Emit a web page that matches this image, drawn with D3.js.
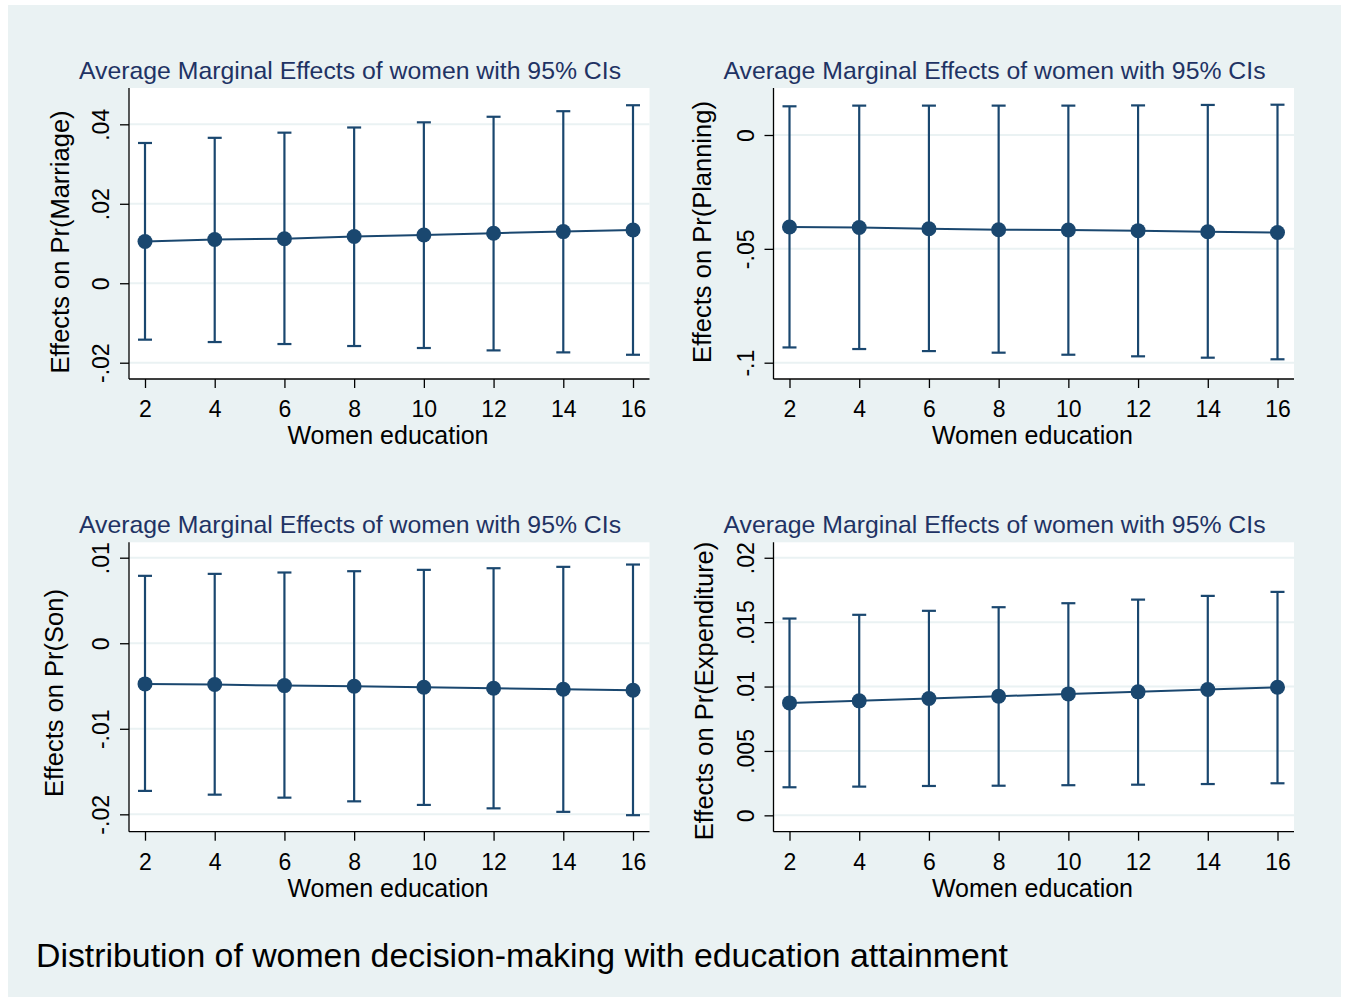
<!DOCTYPE html>
<html>
<head>
<meta charset="utf-8">
<script src="https://cdnjs.cloudflare.com/ajax/libs/d3/7.8.5/d3.min.js"></script>
<style>
  body { margin: 0; background: #fff; }
  text { font-family: "Liberation Sans", Arial, sans-serif; }
</style>
</head>
<body>
<div id="mainContainer"></div>
<script>
// women education levels (x axis)
var educ = [2, 4, 6, 8, 10, 12, 14, 16];
var xTicks = [2, 4, 6, 8, 10, 12, 14, 16];

// marriage
var marriageEst = [0.0105, 0.0110, 0.0112, 0.01175, 0.01215, 0.0126, 0.0130, 0.0134];
var marriageLo  = [-0.0142, -0.0148, -0.0153, -0.0158, -0.0163, -0.0169, -0.0174, -0.0180];
var marriageHi  = [0.0353, 0.0366, 0.0379, 0.0392, 0.0405, 0.0419, 0.0433, 0.0448];
var marriageTicks = [-0.02, 0, 0.02, 0.04];

// planning
var planningEst = [-0.0404, -0.0406, -0.0412, -0.0416, -0.0417, -0.0420, -0.0425, -0.0428];
var planningLo  = [-0.0933, -0.0940, -0.0949, -0.0956, -0.0965, -0.0972, -0.0978, -0.0985];
var planningHi  = [0.0126, 0.0129, 0.0129, 0.0129, 0.0129, 0.0130, 0.0132, 0.0133];
var planningTicks = [-0.1, -0.05, 0];

// son
var sonEst = [-0.00475, -0.00483, -0.00495, -0.00503, -0.00515, -0.00526, -0.00538, -0.0055];
var sonLo  = [-0.01726, -0.0177, -0.01805, -0.01848, -0.0189, -0.0193, -0.01971, -0.0201];
var sonHi  = [0.00788, 0.00811, 0.00827, 0.00842, 0.00858, 0.00877, 0.00893, 0.0092];
var sonTicks = [-0.02, -0.01, 0, 0.01];

// expenditure
var expEst = [0.00873, 0.00889, 0.00907, 0.00925, 0.00943, 0.00959, 0.00977, 0.00995];
var expLo  = [0.00218, 0.00223, 0.00228, 0.0023, 0.00234, 0.00238, 0.00243, 0.00249];
var expHi  = [0.01528, 0.01557, 0.01588, 0.01616, 0.01647, 0.01675, 0.01704, 0.01735];
var expTicks = [0, 0.005, 0.01, 0.015, 0.02];

var panelTitle = "Average Marginal Effects of women with 95% CIs";
var xTitle = "Women education";
var caption = "Distribution of women decision-making with education attainment";

var navy = "#1a476f", bg = "#eaf2f3";
var width = 1346, height = 1000;

// panel placement (axis origin, plot top/bottom, y title position)
var panels = [
  {est: marriageEst, lo: marriageLo, hi: marriageHi, ticks: marriageTicks, ytitle: "Effects on Pr(Marriage)",
   ax: 129, top: 88, bot: 379, dom: [-0.0241, 0.04914], ytx: 69, yty: 242},
  {est: planningEst, lo: planningLo, hi: planningHi, ticks: planningTicks, ytitle: "Effects on Pr(Planning)",
   ax: 773.5, top: 88, bot: 379, dom: [-0.10716, 0.02064], ytx: 711, yty: 232},
  {est: sonEst, lo: sonLo, hi: sonHi, ticks: sonTicks, ytitle: "Effects on Pr(Son)",
   ax: 129, top: 542.3, bot: 831.7, dom: [-0.02203, 0.0118], ytx: 63, yty: 693},
  {est: expEst, lo: expLo, hi: expHi, ticks: expTicks, ytitle: "Effects on Pr(Expenditure)",
   ax: 773.5, top: 542.3, bot: 831.7, dom: [-0.00127, 0.0212], ytx: 713, yty: 691}
];
var plotW = 520.5;

// stata style labels: .04, -.02, 0
function fmt(v) {
  var s = String(+v.toFixed(4));
  return s.replace("0.", ".");
}

var svg = d3.select("#mainContainer")
  .append("svg")
  .attr("width", width)
  .attr("height", height);

svg.append("rect")
  .attr("x", 8).attr("y", 5)
  .attr("width", 1333).attr("height", 992)
  .attr("fill", bg);

panels.forEach(function(p) {
  var g = svg.append("g");

  var x = d3.scaleLinear().domain([2, 16]).range([p.ax + 16, p.ax + 504]);
  var y = d3.scaleLinear().domain(p.dom).range([p.bot, p.top]);

  // plot region
  g.append("rect")
    .attr("x", p.ax).attr("y", p.top)
    .attr("width", plotW).attr("height", p.bot - p.top)
    .attr("fill", "#fff");

  // grid
  g.selectAll(".grid").data(p.ticks).enter().append("line")
    .attr("x1", p.ax).attr("x2", p.ax + plotW)
    .attr("y1", function(d) { return y(d); })
    .attr("y2", function(d) { return y(d); })
    .attr("stroke", bg).attr("stroke-width", 2);

  // y axis
  var yAxis = d3.axisLeft(y).tickValues(p.ticks).tickSize(9).tickPadding(0).tickFormat(fmt);
  var ya = g.append("g").attr("transform", "translate(" + p.ax + ",0)").call(yAxis);
  ya.select(".domain").attr("d", "M0," + p.top + "V" + p.bot).attr("stroke", "#000").attr("stroke-width", 1.3);
  ya.selectAll(".tick line").attr("stroke", "#000").attr("stroke-width", 1.3);
  ya.selectAll(".tick text")
    .attr("x", null).attr("dy", null)
    .attr("text-anchor", "middle")
    .attr("transform", "translate(-20,0) rotate(-90)")
    .attr("fill", "#000")
    .style("font-size", "23px");

  // x axis
  var xAxis = d3.axisBottom(x).tickValues(xTicks).tickSize(9).tickPadding(0).tickFormat(d3.format("d"));
  var xa = g.append("g").attr("transform", "translate(0," + p.bot + ")").call(xAxis);
  xa.select(".domain").attr("d", "M" + p.ax + ",0H" + (p.ax + plotW)).attr("stroke", "#000").attr("stroke-width", 1.3);
  xa.selectAll(".tick line").attr("stroke", "#000").attr("stroke-width", 1.3);
  xa.selectAll(".tick text")
    .attr("y", 38).attr("dy", null)
    .attr("fill", "#000")
    .style("font-size", "23px");

  var rows = educ.map(function(e, i) { return {e: e, est: p.est[i], lo: p.lo[i], hi: p.hi[i]}; });

  // error bars
  var bars = g.selectAll(".bar").data(rows).enter().append("g");
  bars.append("line")
    .attr("x1", function(d) { return x(d.e); }).attr("x2", function(d) { return x(d.e); })
    .attr("y1", function(d) { return y(d.lo); }).attr("y2", function(d) { return y(d.hi); })
    .attr("stroke", navy).attr("stroke-width", 2.2);
  bars.selectAll(".cap").data(function(d) { return [{e: d.e, v: d.lo}, {e: d.e, v: d.hi}]; })
    .enter().append("line")
    .attr("x1", function(d) { return x(d.e) - 7; }).attr("x2", function(d) { return x(d.e) + 7; })
    .attr("y1", function(d) { return y(d.v); }).attr("y2", function(d) { return y(d.v); })
    .attr("stroke", navy).attr("stroke-width", 2.2);

  // estimate line + markers
  g.append("path")
    .datum(rows)
    .attr("d", d3.line().x(function(d) { return x(d.e); }).y(function(d) { return y(d.est); }))
    .attr("fill", "none").attr("stroke", navy).attr("stroke-width", 2);
  g.selectAll(".pt").data(rows).enter().append("circle")
    .attr("cx", function(d) { return x(d.e); })
    .attr("cy", function(d) { return y(d.est); })
    .attr("r", 7.5)
    .attr("fill", navy);

  // titles
  g.append("text")
    .attr("x", p.ax + 221).attr("y", p.top - 9)
    .attr("text-anchor", "middle")
    .attr("fill", "#1f3364")
    .style("font-size", "24.8px")
    .text(panelTitle);

  g.append("text")
    .attr("x", p.ax + 259).attr("y", p.bot + 65)
    .attr("text-anchor", "middle")
    .attr("fill", "#000")
    .style("font-size", "25px")
    .text(xTitle);

  g.append("text")
    .attr("transform", "translate(" + p.ytx + "," + p.yty + ") rotate(-90)")
    .attr("text-anchor", "middle")
    .attr("fill", "#000")
    .style("font-size", "25.5px")
    .text(p.ytitle);
});

svg.append("text")
  .attr("x", 36).attr("y", 967)
  .attr("fill", "#000")
  .attr("textLength", 972)
  .attr("lengthAdjust", "spacingAndGlyphs")
  .style("font-size", "33.5px")
  .text(caption);
</script>
</body>
</html>
